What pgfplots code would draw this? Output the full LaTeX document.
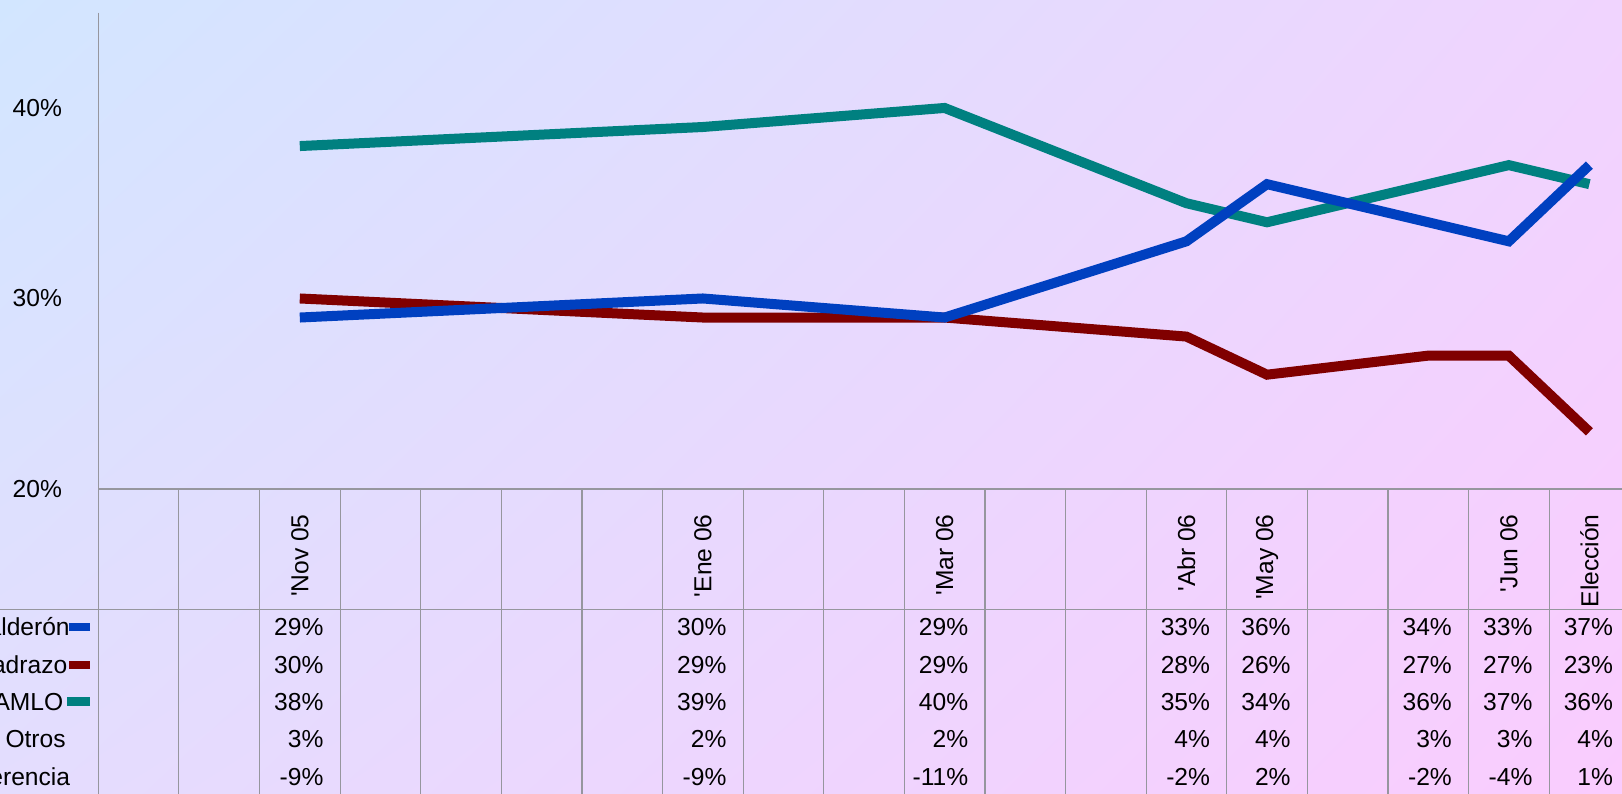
\documentclass[border=0pt]{standalone}
\usepackage{fontspec}
\setmainfont{Liberation Sans}
\usepackage{pgfplots}
\pgfplotsset{compat=1.18}
\usepackage{pgfplotstable}
\usetikzlibrary{shadings}

\definecolor{cal}{RGB}{0,64,192}
\definecolor{mad}{RGB}{128,0,0}
\definecolor{amlo}{RGB}{0,128,128}
\definecolor{gridc}{RGB}{150,150,158}
\definecolor{bgTL}{HTML}{D2E6FF}
\definecolor{bgTR}{HTML}{F0D4FE}
\definecolor{bgBL}{HTML}{E4DDFE}
\definecolor{bgBR}{HTML}{FACCFE}

% poll results, x = column of the data table
\pgfplotstableread{
x  cal mad amlo otros dif
2  29  30  38   3     -9
7  30  29  39   2     -9
10 29  29  40   2     -11
13 33  28  35   4     -2
14 36  26  34   4     2
16 34  27  36   3     -2
17 33  27  37   3     -4
18 37  23  36   4     1
}\polls

\pgfplotsset{
  tablerow/.style={draw=none, mark=none, point meta=explicit,
    nodes near coords={\pgfmathprintnumber{\pgfplotspointmeta}\%},
    every node near coord/.append style={anchor=east, inner sep=0pt, xshift=14.3pt}},
}

\begin{document}
\begin{tikzpicture}[font=\fontsize{12.3}{14}\selectfont]
\path[use as bounding box] (0pt,0pt) rectangle (811pt,396.5pt);
\clip (0pt,0pt) rectangle (811pt,396.5pt);
\shade[upper left=bgTL, upper right=bgTR, lower left=bgBL, lower right=bgBR]
  (0pt,0pt) rectangle (811pt,396.5pt);
\begin{axis}[
    at={(49.15pt,152pt)}, anchor=south west,
    scale only axis, width=765.7pt, height=238.15pt,
    xmin=-0.5, xmax=18.5, ymin=20, ymax=45,
    clip=false,
    axis line style={draw=none},
    xtick=\empty,
    ytick={20,30,40},
    yticklabel={\pgfmathprintnumber{\tick}\%},
    yticklabel style={inner sep=0pt, xshift=-18pt},
    major tick length=0pt,
    /pgf/number format/assume math mode=true,
    tick label style={font=\fontsize{12.3}{14}\selectfont},
    every axis plot/.append style={line width=5pt, line join=miter, line cap=butt},
]
% table grid
\draw[gridc, line width=0.6pt] (axis cs:-0.5,45) -- (axis cs:-0.5,3);
\draw[gridc, line width=0.6pt] (axis cs:-0.5,20) -- (axis cs:19,20);
\draw[gridc, line width=0.6pt] (axis cs:-3,13.69) -- (axis cs:19,13.69);
\pgfplotsinvokeforeach{0.5,1.5,...,18.5}{
  \draw[gridc, line width=0.6pt] (axis cs:#1,20) -- (axis cs:#1,3);
}

\addplot[mad] table[x=x, y=mad] {\polls};
\addplot[amlo] table[x=x, y=amlo] {\polls};
\addplot[cal] table[x=x, y=cal] {\polls};

% data table rows
\addplot[tablerow] table[x=x, y expr=12.77, meta=cal] {\polls};
\addplot[tablerow] table[x=x, y expr=10.76, meta=mad] {\polls};
\addplot[tablerow] table[x=x, y expr=8.84, meta=amlo] {\polls};
\addplot[tablerow] table[x=x, y expr=6.86, meta=otros] {\polls};
\addplot[tablerow] table[x=x, y expr=4.90, meta=dif] {\polls};

% category labels
\node[rotate=90, anchor=east, inner sep=0pt] at (axis cs:2,18.69) {\textquotesingle Nov 05};
\node[rotate=90, anchor=east, inner sep=0pt] at (axis cs:7,18.69) {\textquotesingle Ene 06};
\node[rotate=90, anchor=east, inner sep=0pt] at (axis cs:10,18.69) {\textquotesingle Mar 06};
\node[rotate=90, anchor=east, inner sep=0pt] at (axis cs:13,18.69) {\textquotesingle Abr 06};
\node[rotate=90, anchor=east, inner sep=0pt] at (axis cs:14,18.69) {\textquotesingle May 06};
\node[rotate=90, anchor=east, inner sep=0pt] at (axis cs:17,18.69) {\textquotesingle Jun 06};
\node[rotate=90, anchor=east, inner sep=0pt] at (axis cs:18,18.69) {Elección};

% row headers with legend keys
\node[anchor=east, inner sep=0pt] at (axis cs:-0.85,12.77) {Calderón};
\node[anchor=east, inner sep=0pt] at (axis cs:-0.88,10.76) {Madrazo};
\node[anchor=east, inner sep=0pt] at (axis cs:-0.93,8.84) {AMLO};
\node[anchor=east, inner sep=0pt] at (axis cs:-0.90,6.86) {Otros};
\node[anchor=east, inner sep=0pt] at (axis cs:-0.845,4.90) {Diferencia};
\fill[cal] (axis cs:-0.862,12.55) rectangle (axis cs:-0.603,12.99);
\fill[mad] (axis cs:-0.866,10.54) rectangle (axis cs:-0.603,10.98);
\fill[amlo] (axis cs:-0.883,8.62) rectangle (axis cs:-0.603,9.06);
\end{axis}
\end{tikzpicture}
\end{document}
